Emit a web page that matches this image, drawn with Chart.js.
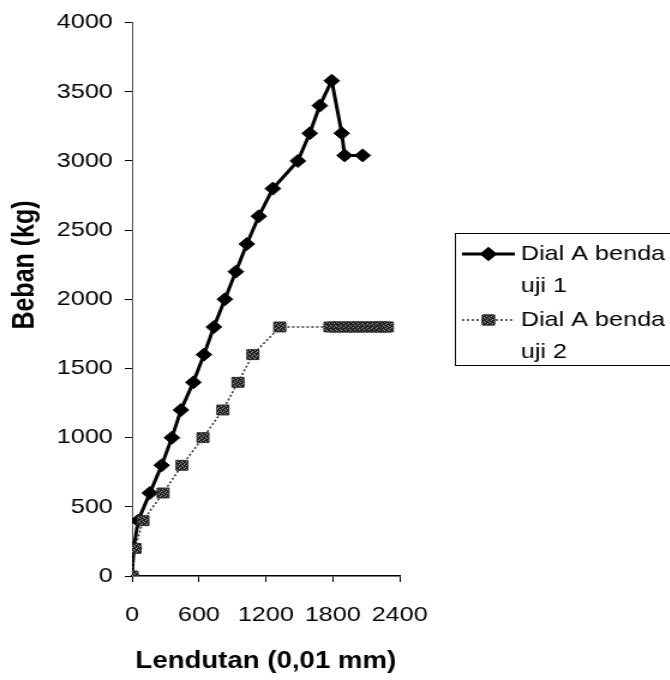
<!DOCTYPE html>
<html>
<head>
<meta charset="utf-8">
<script src="https://cdn.jsdelivr.net/npm/chart.js@4.4.1/dist/chart.umd.min.js"></script>
<style>
  html, body { margin: 0; padding: 0; background: #fff; overflow: hidden; }
  /* the chart is laid out on a narrower canvas and widened, giving the broad lettering */
  #wrap { position: absolute; left: 0; top: 0; width: 558px; height: 680px;
          transform: scaleX(1.2); transform-origin: 0 0; }
</style>
</head>
<body>
<div id="wrap"><canvas id="c"></canvas></div>
<script>
// Dial A, specimen 1: deflection (0,01 mm) and load (kg)
const lendutan1 = [0, 15, 55, 160, 266, 358, 439, 550, 645, 734, 833, 931, 1030, 1137, 1263, 1487, 1594, 1684, 1791, 1881, 1907, 2069];
const beban1    = [0, 200, 400, 600, 800, 1000, 1200, 1400, 1600, 1800, 2000, 2200, 2400, 2600, 2800, 3000, 3200, 3400, 3580, 3200, 3040, 3040];

// Dial A, specimen 2
const lendutan2 = [0, 27, 98, 278, 448, 636, 815, 950, 1084, 1325, 1775, 1815, 1855, 1900, 1940, 1980, 2025, 2065, 2105, 2150, 2190, 2230, 2270, 2290];
const beban2    = [0, 200, 400, 600, 800, 1000, 1200, 1400, 1600, 1800, 1800, 1800, 1800, 1800, 1800, 1800, 1800, 1800, 1800, 1800, 1800, 1800, 1800, 1800];

const xTicks = [0, 600, 1200, 1800, 2400];
const yTicks = [0, 500, 1000, 1500, 2000, 2500, 3000, 3500, 4000];

const seriesNames = [['Dial A benda', 'uji 1'], ['Dial A benda', 'uji 2']];
const xTitle = 'Lendutan (0,01 mm)';
const yTitle = 'Beban (kg)';

const FONT = '"Liberation Sans", Arial, sans-serif';
Chart.defaults.font.family = FONT;
Chart.defaults.color = '#000';

// speckled fill for the square markers
function speckle() {
  const p = document.createElement('canvas');
  p.width = 4; p.height = 4;
  const g = p.getContext('2d');
  g.fillStyle = '#202020'; g.fillRect(0, 0, 4, 4);
  g.fillStyle = '#9a9a9a';
  g.fillRect(1, 0, 1, 1); g.fillRect(3, 1, 1, 1); g.fillRect(0, 2, 1, 1); g.fillRect(2, 3, 1, 1);
  return g.createPattern(p, 'repeat');
}
const squareFill = speckle();

function toPoints(xs, ys) { return xs.map((x, i) => ({ x: x, y: ys[i] })); }

const legendAndTitles = {
  id: 'legendAndTitles',
  afterDraw(chart) {
    const ctx = chart.ctx;
    ctx.save();

    // axis titles
    ctx.fillStyle = '#000';
    ctx.textAlign = 'center';
    ctx.textBaseline = 'middle';
    ctx.font = 'bold 23px ' + FONT;
    ctx.fillText(xTitle, (chart.chartArea.left + chart.chartArea.right) / 2, 662);
    ctx.save();
    ctx.translate(21, 265);
    ctx.rotate(-Math.PI / 2);
    ctx.font = 'bold 25px ' + FONT;
    ctx.fillText(yTitle, 0, 0);
    ctx.restore();

    // legend frame
    const left = 379, top = 233, bottom = 365;
    ctx.strokeStyle = '#000';
    ctx.lineWidth = 1;
    ctx.strokeRect(left + 0.5, top + 0.5, 600, bottom - top);

    const rows = [254, 320];
    const lineGap = 32;
    const ds = chart.data.datasets;
    ds.forEach((d, i) => {
      const y = rows[i];
      ctx.save();
      ctx.strokeStyle = d.borderColor;
      ctx.lineWidth = d.borderWidth;
      ctx.setLineDash(d.borderDash || []);
      ctx.beginPath();
      ctx.moveTo(385, y); ctx.lineTo(429, y);
      ctx.stroke();
      ctx.restore();
      Chart.helpers.drawPoint(ctx, {
        pointStyle: d.pointStyle, radius: d.pointRadius, borderWidth: 1, rotation: 0
      }, 407, y);
      ctx.fillStyle = d.pointBackgroundColor;
      ctx.strokeStyle = d.pointBorderColor;
      ctx.lineWidth = 1;
      ctx.fill();
      ctx.stroke();

      ctx.fillStyle = '#000';
      ctx.textAlign = 'left';
      ctx.textBaseline = 'middle';
      ctx.font = '21px ' + FONT;
      seriesNames[i].forEach((t, k) => ctx.fillText(t, 434, y + k * lineGap));
    });
    ctx.restore();
  }
};

new Chart(document.getElementById('c'), {
  type: 'line',
  data: {
    datasets: [
      {
        label: seriesNames[0].join(' '),
        data: toPoints(lendutan1, beban1),
        borderColor: '#000',
        borderWidth: 3,
        tension: 0,
        pointStyle: 'rectRot',
        pointRadius: 6.5,
        pointBackgroundColor: '#000',
        pointBorderColor: '#000',
        pointBorderWidth: 1,
        order: 1
      },
      {
        label: seriesNames[1].join(' '),
        data: toPoints(lendutan2, beban2),
        borderColor: '#333',
        borderWidth: 1.5,
        borderDash: [2, 2],
        tension: 0,
        pointStyle: 'rect',
        pointRadius: 7,
        pointBackgroundColor: squareFill,
        pointBorderColor: '#2a2a2a',
        pointBorderWidth: 1,
        order: 0
      }
    ]
  },
  options: {
    responsive: true,
    maintainAspectRatio: false,
    animation: false,
    events: [],
    layout: { padding: { top: 20, right: 225, bottom: 0, left: 0 } },
    plugins: { legend: { display: false }, tooltip: { enabled: false } },
    scales: {
      x: {
        type: 'linear',
        min: 0, max: 2400,
        afterBuildTicks: s => { s.ticks = xTicks.map(v => ({ value: v })); },
        afterFit: s => { s.height = 104; },
        grid: { drawOnChartArea: false, drawTicks: true, tickLength: 6, color: '#000', lineWidth: 1 },
        border: { display: true, color: '#000', width: 1.5 },
        ticks: { font: { size: 21 }, padding: 21, color: '#000', maxRotation: 0, autoSkip: false,
                 callback: v => String(v) }
      },
      y: {
        type: 'linear',
        min: 0, max: 4000,
        afterBuildTicks: s => { s.ticks = yTicks.map(v => ({ value: v })); },
        afterFit: s => { s.width = 110; },
        grid: { drawOnChartArea: false, drawTicks: true, tickLength: 6, color: '#000', lineWidth: 1 },
        border: { display: true, color: '#555', width: 1, dash: [3, 2] },
        ticks: { font: { size: 21 }, padding: 10, color: '#000', autoSkip: false,
                 callback: v => String(v) }
      }
    }
  },
  plugins: [legendAndTitles]
});
</script>
</body>
</html>
